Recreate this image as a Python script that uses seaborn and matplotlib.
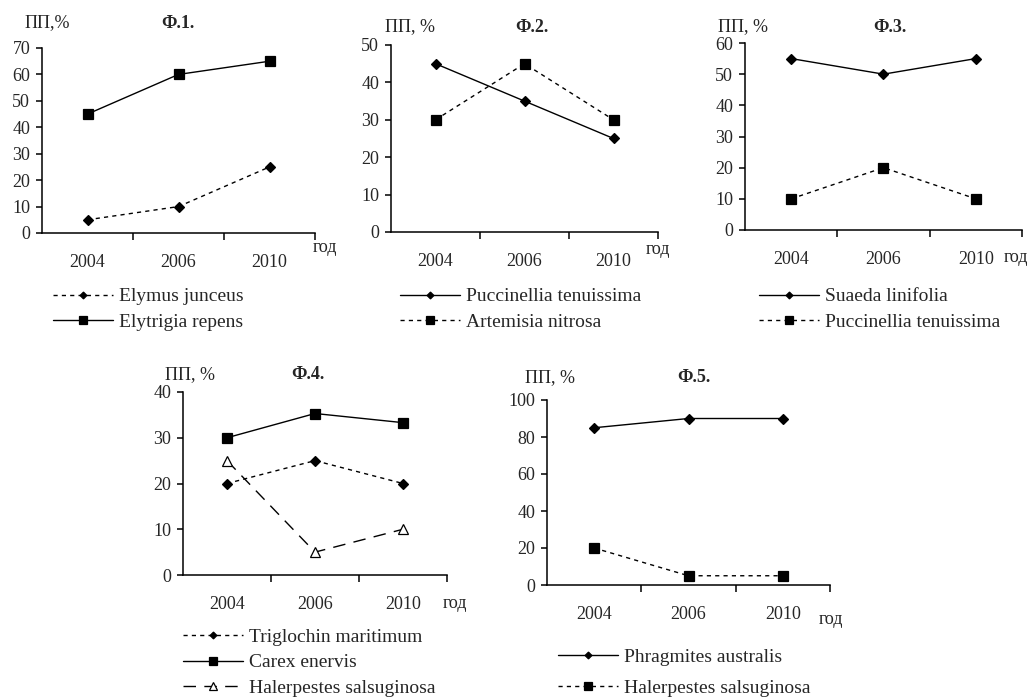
import matplotlib
matplotlib.use("Agg")
import matplotlib.pyplot as plt
import pandas as pd
import seaborn as sns

# data
years = ["2004", "2006", "2010"]

elymus_junceus = [5, 10, 25]
elytrigia_repens = [45, 60, 65]

puccinellia_f2 = [45, 35, 25]
artemisia_nitrosa = [30, 45, 30]

suaeda_linifolia = [55, 50, 55]
puccinellia_f3 = [10, 20, 10]

triglochin_maritimum = [20, 25, 20]
carex_enervis = [30, 35.3, 33.3]
halerpestes_f4 = [25, 5, 10]

phragmites_australis = [85, 90, 90]
halerpestes_f5 = [20, 5, 5]

panel_titles = ["Ф.1.", "Ф.2.", "Ф.3.", "Ф.4.", "Ф.5."]
y_labels = ["ПП,%", "ПП, %", "ПП, %", "ПП, %", "ПП, %"]
y_max = [70, 50, 60, 40, 100]
y_step = [10, 10, 10, 10, 20]

sns.set_style("white")
plt.rcParams["font.family"] = ["Liberation Serif", "DejaVu Serif"]

W, H = 1036, 697
fig = plt.figure(figsize=(W / 100, H / 100), dpi=100)


def fx(x):
    return x / W


def fy(y):
    return 1 - y / H


def make_axes(left, top, right, bottom):
    return fig.add_axes([fx(left), fy(bottom), (right - left) / W, (bottom - top) / H])


SOLID = "-"
DOTS = (0, (3, 3))
LONG = (0, (9, 6))

# (series, label, linestyle, marker, facecolor)
panels = [
    [(elymus_junceus, "Elymus junceus", DOTS, "D", "black"),
     (elytrigia_repens, "Elytrigia repens", SOLID, "s", "black")],
    [(puccinellia_f2, "Puccinellia tenuissima", SOLID, "D", "black"),
     (artemisia_nitrosa, "Artemisia nitrosa", DOTS, "s", "black")],
    [(suaeda_linifolia, "Suaeda linifolia", SOLID, "D", "black"),
     (puccinellia_f3, "Puccinellia tenuissima", DOTS, "s", "black")],
    [(triglochin_maritimum, "Triglochin maritimum", DOTS, "D", "black"),
     (carex_enervis, "Carex enervis", SOLID, "s", "black"),
     (halerpestes_f4, "Halerpestes salsuginosa", LONG, "^", "white")],
    [(phragmites_australis, "Phragmites australis", SOLID, "D", "black"),
     (halerpestes_f5, "Halerpestes salsuginosa", DOTS, "s", "black")],
]

# layout in pixels
rects = [(42, 48, 315, 233), (391, 45, 658, 232), (745, 43, 1022, 230),
         (183, 392, 447, 575), (547, 400, 830, 585)]
ylabel_pos = [(25, 23), (385, 27), (718, 27), (165, 375), (525, 378)]
title_pos = [(178, 23), (532, 27), (890, 27), (308, 375), (694, 378)]
god_pos = [(325, 248), (658, 250), (1016, 258), (455, 603), (831, 620)]
legend_pos = [(53, 309.5, 0.42), (400, 309.5, 0.42), (759, 309.5, 0.42),
              (183, 662.5, 0.42), (558, 672.5, 0.72)]

for i, series in enumerate(panels):
    ax = make_axes(*rects[i])
    for values, label, ls, marker, fc in series:
        df = pd.DataFrame({"year": years, "value": values})
        ms = 4.6 if marker == "D" else 6.8
        sns.lineplot(data=df, x="year", y="value", ax=ax, color="black",
                     linestyle=ls, linewidth=1.0, marker=marker, markersize=ms,
                     markerfacecolor=fc, markeredgecolor="black",
                     markeredgewidth=0.9, label=label, sort=False)

    ax.set_xlim(-0.5, 2.5)
    ax.set_ylim(0, y_max[i])
    ax.set_yticks(range(0, y_max[i] + 1, y_step[i]))
    ax.set_xticks([0.5, 1.5, 2.5])
    ax.set_xticklabels([])
    ax.set_xticks([0, 1, 2], minor=True)
    ax.set_xticklabels(years, minor=True)
    ax.set_xlabel("")
    ax.set_ylabel("")
    ax.tick_params(axis="x", which="major", direction="out", length=5, width=1.1,
                   color="black", bottom=True)
    ax.tick_params(axis="x", which="minor", length=0, pad=15, labelsize=13)
    ax.tick_params(axis="y", direction="out", length=4.5, width=1.1, color="black",
                   left=True, pad=4, labelsize=13)
    for side in ["top", "right"]:
        ax.spines[side].set_visible(False)
    for side in ["left", "bottom"]:
        ax.spines[side].set_color("black")
        ax.spines[side].set_linewidth(1.1)

    lx, ly, spacing = legend_pos[i]
    ax.legend(loc="center left", bbox_to_anchor=(fx(lx), fy(ly)),
              bbox_transform=fig.transFigure, frameon=False, fontsize=14,
              borderpad=0, borderaxespad=0, handlelength=3.1, handletextpad=0.3,
              labelspacing=spacing, markerscale=0.75)

    fig.text(fx(ylabel_pos[i][0]), fy(ylabel_pos[i][1]), y_labels[i],
             fontsize=13, ha="left", va="center")
    fig.text(fx(title_pos[i][0]), fy(title_pos[i][1]), panel_titles[i],
             fontsize=13, fontweight="bold", ha="center", va="center")
    fig.text(fx(god_pos[i][0]), fy(god_pos[i][1]), "год",
             fontsize=13, ha="center", va="center")

fig.savefig("out.png", dpi=100, facecolor="white")
